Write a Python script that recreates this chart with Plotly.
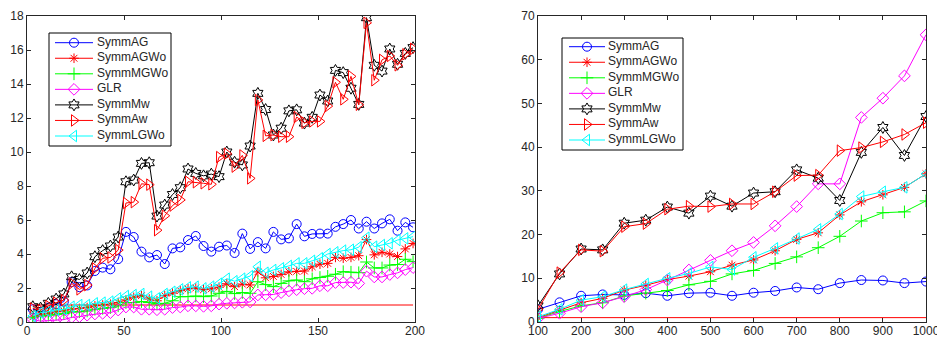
import plotly.graph_objects as go
from plotly.subplots import make_subplots

# ---------------- data: left panel ----------------
x_left = list(range(3, 200, 4))  # 3,7,...,199

symmAG_L = [0.75, 0.6, 0.85, 1.05, 1.2, 2.35, 2.05, 2.15, 3.0, 3.2,
            3.1, 3.7, 5.3, 5.0, 4.14, 3.8, 3.94, 3.41, 4.33, 4.39,
            4.82, 5.06, 4.47, 4.14, 4.43, 4.5, 4.06, 5.2, 4.3, 4.7,
            4.33, 5.3, 4.86, 4.92, 5.76, 5.04, 5.18, 5.2, 5.2, 5.6,
            5.76, 6.0, 5.5, 5.9, 5.5, 5.8, 6.04, 5.37, 5.86, 5.57]
symmAGWo_L = [0.3, 0.45, 0.5, 0.6, 0.65, 0.75, 0.8, 0.85, 0.95, 1.0,
              1.05, 1.15, 1.3, 1.45, 1.55, 1.35, 1.25, 1.55, 1.7, 1.85,
              1.95, 2.0, 1.9, 1.95, 2.05, 2.25, 2.08, 2.23, 2.18, 2.95,
              2.6, 2.68, 2.8, 2.95, 2.98, 3.0, 3.25, 3.4, 3.45, 3.8,
              3.75, 3.8, 3.9, 4.85, 3.95, 4.1, 4.0, 3.85, 4.3, 4.62]
symmMGWo_L = [0.25, 0.35, 0.4, 0.45, 0.5, 0.6, 0.6, 0.65, 0.75, 0.8,
              0.85, 0.95, 1.14, 1.14, 1.2, 1.14, 1.06, 1.1, 1.25, 1.49,
              1.49, 1.53, 1.49, 1.53, 1.69, 1.8, 1.67, 1.73, 1.69, 2.37,
              2.2, 2.08, 2.27, 2.42, 2.47, 2.37, 2.54, 2.62, 2.69, 2.81,
              2.96, 2.93, 2.9, 3.53, 3.18, 3.18, 3.35, 3.38, 3.69, 3.55]
GLR_L = [0.15, 0.05, 0.08, 0.12, 0.14, 0.27, 0.31, 0.4, 0.47, 0.51,
         0.55, 0.7, 0.88, 0.88, 0.75, 0.75, 0.72, 0.75, 0.85, 0.88,
         0.95, 0.95, 0.92, 0.95, 1.05, 1.1, 1.12, 1.16, 1.18, 1.59,
         1.6, 1.62, 1.73, 1.83, 1.9, 1.96, 1.98, 2.13, 2.13, 2.32,
         2.32, 2.34, 2.27, 2.99, 2.65, 2.65, 2.79, 2.89, 3.08, 3.2]
symmMw_L = [0.9, 0.82, 1.1, 1.35, 1.65, 2.66, 2.5, 2.88, 3.84, 4.2,
            4.47, 5.0, 8.25, 8.35, 9.33, 9.37, 6.23, 6.88, 7.5, 7.9,
            9.0, 8.74, 8.6, 8.7, 8.55, 10.0, 9.4, 9.24, 10.35, 13.45,
            12.5, 11.0, 11.4, 12.42, 12.48, 11.7, 12.04, 13.35, 13.0, 14.8,
            14.67, 13.75, 12.8, 17.9, 15.1, 14.76, 16.06, 15.16, 15.8, 16.14]
symmAw_L = [0.8, 0.7, 0.94, 1.14, 1.29, 2.27, 1.92, 2.17, 3.15, 3.75,
            3.8, 4.23, 7.0, 7.05, 8.13, 8.08, 5.4, 6.25, 6.85, 7.18,
            8.25, 8.22, 8.16, 8.1, 9.7, 9.9, 9.14, 9.8, 8.45, 13.06,
            10.95, 11.0, 10.9, 10.9, 12.06, 11.72, 11.8, 11.8, 12.7, 14.1,
            13.1, 14.45, 12.78, 17.6, 14.22, 15.42, 15.65, 15.1, 15.75, 16.07]
symmLGWo_L = [0.35, 0.55, 0.61, 0.71, 0.75, 0.9, 1.0, 1.0, 1.1, 1.14,
              1.2, 1.39, 1.53, 1.59, 1.65, 1.49, 1.39, 1.65, 1.78, 1.92,
              2.04, 2.08, 1.98, 2.08, 2.25, 2.55, 2.4, 2.55, 2.7, 3.25,
              2.9, 3.06, 3.16, 3.3, 3.45, 3.45, 3.6, 3.75, 4.0, 4.1,
              4.2, 4.25, 4.4, 4.96, 4.43, 4.53, 4.63, 4.82, 4.92, 5.02]

# ---------------- data: right panel ----------------
x_right = list(range(100, 1001, 50))

symmAG_R = [2.9, 4.5, 6.0, 6.3, 6.2, 6.6, 6.0, 6.6, 6.7, 6.0,
            6.7, 7.1, 7.9, 7.5, 8.9, 9.6, 9.5, 8.9, 9.25]
symmAGWo_R = [1.0, 2.75, 4.4, 5.4, 7.3, 8.4, 9.7, 10.5, 11.5, 13.0,
              14.2, 16.3, 18.9, 20.4, 24.5, 27.5, 29.1, 30.8, 33.9]
symmMGWo_R = [0.84, 2.4, 3.7, 4.4, 5.95, 6.6, 7.2, 8.5, 9.3, 11.0,
              11.8, 13.4, 14.9, 17.0, 19.6, 23.1, 25.0, 25.2, 27.7]
GLR_R = [0.84, 2.0, 3.5, 4.4, 5.8, 7.4, 9.6, 11.9, 14.1, 16.3,
         18.2, 22.0, 26.4, 31.6, 31.6, 46.8, 51.2, 56.3, 65.7]
symmMw_R = [3.7, 11.0, 16.7, 16.5, 22.6, 23.3, 26.3, 24.9, 28.8, 26.5,
            29.5, 29.8, 34.8, 32.9, 27.8, 38.8, 44.5, 38.1, 47.0]
symmAw_R = [2.9, 11.3, 16.5, 16.2, 21.8, 22.5, 25.8, 26.5, 26.4, 27.0,
            27.0, 29.8, 33.5, 33.6, 39.2, 39.9, 41.2, 42.9, 45.6]
symmLGWo_R = [1.2, 2.9, 5.0, 5.8, 7.4, 8.7, 10.0, 11.1, 12.6, 12.0,
              14.8, 16.85, 19.1, 21.2, 24.7, 28.7, 29.8, 30.8, 33.9]

ref_level = 1.0

series_names = ["SymmAG", "SymmAGWo", "SymmMGWo", "GLR", "SymmMw", "SymmAw", "SymmLGWo"]
left_vals = [symmAG_L, symmAGWo_L, symmMGWo_L, GLR_L, symmMw_L, symmAw_L, symmLGWo_L]
right_vals = [symmAG_R, symmAGWo_R, symmMGWo_R, GLR_R, symmMw_R, symmAw_R, symmLGWo_R]

colors = ["#0000FF", "#FF0000", "#00FF00", "#FF00FF", "#000000", "#FF0000", "#00FFFF"]
symbols = ["circle-open", "asterisk-open", "cross-thin-open", "diamond-open",
           "hexagram-open", "triangle-right-open", "triangle-left-open"]
sizes = [9, 8, 9, 9, 9, 10, 10]

FONT = "Liberation Sans, Arial, Helvetica, sans-serif"
W, H = 937, 337
ML, MR, MT, MB = 27, 11, 16, 15

fig = make_subplots(rows=1, cols=2)

# reference lines (drawn first, underneath)
fig.add_trace(go.Scatter(x=[x_left[0], x_left[-1]], y=[ref_level, ref_level], mode="lines",
                         line=dict(color="#FF0000", width=1), showlegend=False, hoverinfo="skip"),
              row=1, col=1)
fig.add_trace(go.Scatter(x=[x_right[0], x_right[-1]], y=[ref_level, ref_level], mode="lines",
                         line=dict(color="#FF0000", width=1), showlegend=False, hoverinfo="skip"),
              row=1, col=2)

for name, yl, yr, c, s, sz in zip(series_names, left_vals, right_vals, colors, symbols, sizes):
    mk = dict(symbol=s, size=sz, color=c, line=dict(color=c, width=1))
    fig.add_trace(go.Scatter(x=x_left, y=yl, mode="lines+markers", name=name,
                             line=dict(color=c, width=1), marker=mk, showlegend=False),
                  row=1, col=1)
    fig.add_trace(go.Scatter(x=x_right, y=yr, mode="lines+markers", name=name,
                             line=dict(color=c, width=1), marker=mk, showlegend=False),
                  row=1, col=2)

# ---- legend boxes (MATLAB style), drawn on an overlay axis in pixel units ----
legend_boxes = [
    dict(x0=49, x1=171, y0=33, y1=146, lx0=55, lx1=93, tx=97, ry=42.7, step=15.55),
    dict(x0=562, x1=683, y0=38, y1=150, lx0=569, lx1=605, tx=608, ry=46.7, step=15.55),
]
for lb in legend_boxes:
    fig.add_trace(go.Scatter(x=[lb["x0"], lb["x1"], lb["x1"], lb["x0"], lb["x0"]],
                             y=[lb["y0"], lb["y0"], lb["y1"], lb["y1"], lb["y0"]],
                             mode="lines", fill="toself", fillcolor="white",
                             line=dict(color="black", width=1), showlegend=False,
                             hoverinfo="skip", xaxis="x3", yaxis="y3"))
    for i, (name, c, s, sz) in enumerate(zip(series_names, colors, symbols, sizes)):
        yc = lb["ry"] + i * lb["step"]
        fig.add_trace(go.Scatter(x=[lb["lx0"], lb["lx1"]], y=[yc, yc], mode="lines",
                                 line=dict(color=c, width=1), showlegend=False,
                                 hoverinfo="skip", xaxis="x3", yaxis="y3"))
        fig.add_trace(go.Scatter(x=[(lb["lx0"] + lb["lx1"]) / 2], y=[yc], mode="markers",
                                 marker=dict(symbol=s, size=sz, color=c, line=dict(color=c, width=1)),
                                 showlegend=False, hoverinfo="skip", xaxis="x3", yaxis="y3"))
    fig.add_trace(go.Scatter(x=[lb["tx"]] * len(series_names),
                             y=[lb["ry"] + i * lb["step"] for i in range(len(series_names))],
                             mode="text", text=series_names, textposition="middle right",
                             textfont=dict(family=FONT, size=12, color="#262626"),
                             showlegend=False, hoverinfo="skip", xaxis="x3", yaxis="y3"))

axis_common = dict(showline=True, linecolor="#262626", linewidth=1, mirror="allticks",
                   ticks="inside", ticklen=4, tickcolor="#262626", showgrid=False,
                   zeroline=False, automargin=False, ticklabeloverflow="allow",
                   tickfont=dict(family=FONT, size=12, color="#262626"))

pw = W - ML - MR
fig.update_xaxes(range=[0, 200], tickvals=[0, 50, 100, 150, 200], row=1, col=1,
                 ticklabelstandoff=-2, **axis_common)
fig.update_yaxes(range=[0, 18], dtick=2, row=1, col=1, **axis_common)
fig.update_xaxes(range=[100, 1000], dtick=100, row=1, col=2,
                 ticklabelstandoff=-2, **axis_common)
fig.update_yaxes(range=[0, 70], dtick=10, row=1, col=2, **axis_common)
fig.update_xaxes(domain=[0, (415 - ML) / pw], row=1, col=1)
fig.update_xaxes(domain=[(538 - ML) / pw, 1.0], row=1, col=2)

fig.update_layout(
    width=W, height=H,
    margin=dict(l=ML, r=MR, t=MT, b=MB),
    paper_bgcolor="white", plot_bgcolor="rgba(0,0,0,0)",
    showlegend=False,
    xaxis3=dict(domain=[0, 1], range=[ML, W - MR], visible=False, fixedrange=True,
                anchor="y3", automargin=False),
    yaxis3=dict(domain=[0, 1], range=[H - MB, MT], visible=False, fixedrange=True,
                anchor="x3", automargin=False),
)

fig.write_html("out.html")
